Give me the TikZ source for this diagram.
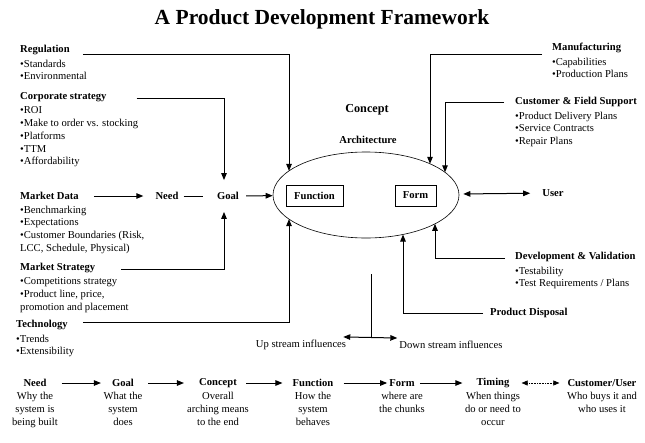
\documentclass[tikz,border=0pt]{standalone}
\usepackage{fontspec}
\setmainfont{Liberation Serif}
\usetikzlibrary{arrows.meta,shapes.geometric}
\begin{document}
\begin{tikzpicture}[x=1pt,y=-1pt,
  txt/.style={inner sep=0pt, font=\fontsize{10.6}{12.8}\selectfont},
  hd/.style={inner sep=0pt, font=\fontsize{10.6}{12.8}\selectfont\bfseries},
  blk/.style={txt, align=left, anchor=north west},
  cblk/.style={txt, align=center, anchor=north},
  conn/.style={line width=1pt},
  arr/.style={conn, -{Triangle[length=7pt,width=5.5pt]}},
  dbl/.style={conn, {Triangle[length=7pt,width=5.5pt]}-{Triangle[length=7pt,width=5.5pt]}},
  dotdbl/.style={line width=0.6pt, densely dotted, {Triangle[length=6pt,width=5pt]}-{Triangle[length=6pt,width=5pt]}},
  fbox/.style={draw, line width=1pt, inner sep=0pt, minimum height=21pt, font=\fontsize{10.6}{12.8}\selectfont\bfseries}
]
\useasboundingbox (0,0) rectangle (645,442);

% title
\node[inner sep=0pt, font=\fontsize{21.5}{24}\selectfont\bfseries] (title) at (322,19) {A Product Development Framework};

% left blocks
\node[hd, anchor=west] (reg) at (20,50) {Regulation};
\node[blk] (regb) at (20,59.5) {•Standards\\•Environmental};
\node[hd, anchor=west] (corp) at (20,97) {Corporate strategy};
\node[blk] (corpb) at (20,106.5) {•ROI\\•Make to order vs. stocking\\•Platforms\\•TTM\\•Affordability};
\node[hd, anchor=west] (mdata) at (20,196) {Market Data};
\node[blk] (mdatab) at (20,205.5) {•Benchmarking\\•Expectations\\•Customer Boundaries (Risk,\\LCC, Schedule, Physical)};
\node[hd, anchor=west] (mstrat) at (20,268) {Market Strategy};
\node[blk] (mstratb) at (20,277.5) {•Competitions strategy\\•Product line, price,\\promotion and placement};
\node[hd, anchor=west] (tech) at (16,325) {Technology};
\node[blk] (techb) at (16,334.5) {•Trends\\•Extensibility};

% right blocks
\node[hd, anchor=west] (manuf) at (552,48) {Manufacturing};
\node[blk] (manufb) at (552,57.5) {•Capabilities\\•Production Plans};
\node[hd, anchor=west] (cfs) at (515,102) {Customer \& Field Support};
\node[blk] (cfsb) at (515,111.5) {•Product Delivery Plans\\•Service Contracts\\•Repair Plans};
\node[hd, anchor=west] (dv) at (515,257) {Development \& Validation};
\node[blk] (dvb) at (515,266.5) {•Testability\\•Test Requirements / Plans};
\node[hd, anchor=west] (pd) at (490,313) {Product Disposal};

% centre
\node[inner sep=0pt, font=\fontsize{12.2}{14}\selectfont\bfseries] (concept) at (367,110) {Concept};
\node[hd] (arch) at (368,140) {Architecture};
\node[draw, ellipse, line width=0.6pt, minimum width=186pt, minimum height=86pt, inner sep=0pt] (ell) at (366,195) {};
\node[fbox, minimum width=57pt] (func) at (314.5,195.5) {Function};
\node[fbox, minimum width=41pt] (form) at (415.5,195.5) {Form};
\node[hd] (need) at (167,196) {Need};
\node[hd] (goal) at (228,196) {Goal};
\node[hd] (user) at (553,193) {User};
\node[txt] (up) at (301,345) {Up stream influences};
\node[txt] (down) at (451,345) {Down stream influences};

% points on the ellipse
\coordinate (eReg) at (289,170.9);
\coordinate (eTech) at (289,219.1);
\coordinate (eMan) at (430,163.8);
\coordinate (eCfs) at (445,172.3);
\coordinate (ePd) at (403,234.5);
\coordinate (eDv) at (435,223.8);
\coordinate (sTop) at (371,274);
\coordinate (sJoin) at (371,337);

% connectors
\draw[arr] ([xshift=13pt,yshift=-4pt]reg.east) -| (eReg);
\draw[arr] ([xshift=30pt,yshift=-1pt]corp.east) -| ([xshift=-4pt,yshift=12pt]goal.north);
\draw[arr] ([xshift=15pt]mdata.east) -- ([xshift=-12pt]need.west);
\draw[conn] ([xshift=5pt]need.east) -- ([xshift=-14pt]goal.west);
\draw[arr, shorten <=7pt] (goal) -- (ell);
\draw[arr] ([xshift=26pt,yshift=-1pt]mstrat.east) -| ([xshift=-4pt,yshift=-12pt]goal.south);
\draw[arr] ([xshift=15pt,yshift=3pt]tech.east) -| (eTech);
\draw[arr] ([xshift=-10pt,yshift=-6pt]manuf.west) -| (eMan);
\draw[arr] ([xshift=-11pt]cfs.west) -| (eCfs);
\draw[dbl, shorten <=4pt, shorten >=12pt] (ell) -- (user);
\draw[arr] ([xshift=-10pt,yshift=-1pt]dv.west) -| (eDv);
\draw[arr] ([xshift=-7pt]pd.west) -| (ePd);
\draw[conn] (sTop) -- (sJoin);
\draw[dbl] ([shift={(-3pt,3pt)}]up.north east) -- ([shift={(-2pt,3pt)}]down.north west);

% bottom row
\node[hd] (bNeed) at (35,383) {Need};
\node[cblk] (bNeedD) at (35,392) {Why the\\system is\\being built};
\node[hd] (bGoal) at (123,383) {Goal};
\node[cblk] (bGoalD) at (123,392) {What the\\system\\does};
\node[hd] (bConc) at (218,383) {Concept};
\node[cblk] (bConcD) at (218,392) {Overall\\arching means\\to the end};
\node[hd] (bFunc) at (313,383) {Function};
\node[cblk] (bFuncD) at (313,392) {How the\\system\\behaves};
\node[hd] (bForm) at (402,383) {Form};
\node[cblk] (bFormD) at (402,392) {where are\\the chunks};
\node[hd] (bTime) at (493,383) {Timing};
\node[cblk] (bTimeD) at (493,392) {When things\\do or need to\\occur};
\node[hd] (bCust) at (602,383) {Customer/User};
\node[cblk] (bCustD) at (602,392) {Who buys it and\\who uses it};

\draw[arr, shorten <=15pt, shorten >=11pt] (bNeed) -- (bGoal);
\draw[arr, shorten <=14pt, shorten >=15pt] (bGoal) -- (bConc);
\draw[arr, shorten <=9pt, shorten >=10pt] (bConc) -- (bFunc);
\draw[arr, shorten <=10pt, shorten >=2pt] (bFunc) -- (bForm);
\draw[arr, shorten <=5pt, shorten >=14pt] (bForm) -- (bTime);
\draw[dotdbl, shorten <=12pt, shorten >=8pt] (bTime) -- (bCust);
\end{tikzpicture}
\end{document}
